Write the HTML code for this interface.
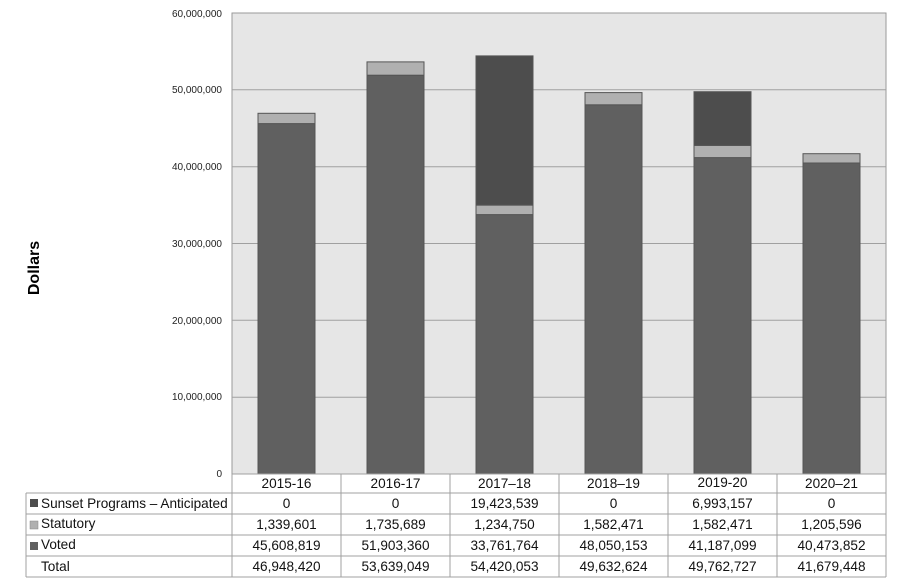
<!DOCTYPE html>
<html><head><meta charset="utf-8"><style>
html,body{margin:0;padding:0;background:#fff;}
svg{display:block;font-family:"Liberation Sans",Arial,sans-serif;}
</style></head><body>
<svg width="900" height="588" viewBox="0 0 900 588">
<rect x="232" y="13" width="654" height="461" fill="#e6e6e6" stroke="#999" stroke-width="1"/>
<g stroke="#a0a0a0" stroke-width="1">
<line x1="232" x2="886" y1="89.8" y2="89.8"/>
<line x1="232" x2="886" y1="166.7" y2="166.7"/>
<line x1="232" x2="886" y1="243.5" y2="243.5"/>
<line x1="232" x2="886" y1="320.3" y2="320.3"/>
<line x1="232" x2="886" y1="397.2" y2="397.2"/>
</g>
<g font-size="10" fill="#222" text-anchor="end">
<text x="222" y="17">60,000,000</text>
<text x="222" y="93">50,000,000</text>
<text x="222" y="170">40,000,000</text>
<text x="222" y="247">30,000,000</text>
<text x="222" y="324">20,000,000</text>
<text x="222" y="400">10,000,000</text>
<text x="222" y="477">0</text>
</g>
<text transform="translate(39,268) rotate(-90)" text-anchor="middle" font-size="16" font-weight="bold" fill="#000">Dollars</text>
<g stroke="#555" stroke-width="1">
<rect x="258" y="123.6" width="57" height="350.4" fill="#606060"/>
<rect x="258" y="113.3" width="57" height="10.3" fill="#b0b0b0"/>
<rect x="367" y="75.2" width="57" height="398.8" fill="#606060"/>
<rect x="367" y="61.9" width="57" height="13.3" fill="#b0b0b0"/>
<rect x="476" y="214.6" width="57" height="259.4" fill="#606060"/>
<rect x="476" y="205.1" width="57" height="9.5" fill="#b0b0b0"/>
<rect x="476" y="55.9" width="57" height="149.2" fill="#4d4d4d"/>
<rect x="585" y="104.8" width="57" height="369.2" fill="#606060"/>
<rect x="585" y="92.6" width="57" height="12.2" fill="#b0b0b0"/>
<rect x="694" y="157.6" width="57" height="316.4" fill="#606060"/>
<rect x="694" y="145.4" width="57" height="12.2" fill="#b0b0b0"/>
<rect x="694" y="91.7" width="57" height="53.7" fill="#4d4d4d"/>
<rect x="803" y="163" width="57" height="311" fill="#606060"/>
<rect x="803" y="153.7" width="57" height="9.3" fill="#b0b0b0"/>
</g>
<g stroke="#a0a0a0" stroke-width="1" fill="none">
<line x1="232" x2="886" y1="474" y2="474"/>
<line x1="26" x2="886" y1="493" y2="493"/>
<line x1="26" x2="886" y1="514" y2="514"/>
<line x1="26" x2="886" y1="535" y2="535"/>
<line x1="26" x2="886" y1="556" y2="556"/>
<line x1="26" x2="886" y1="577" y2="577"/>
<line x1="26" x2="26" y1="493" y2="577"/>
<line x1="232" x2="232" y1="474" y2="577"/>
<line x1="341" x2="341" y1="474" y2="577"/>
<line x1="450" x2="450" y1="474" y2="577"/>
<line x1="559" x2="559" y1="474" y2="577"/>
<line x1="668" x2="668" y1="474" y2="577"/>
<line x1="777" x2="777" y1="474" y2="577"/>
<line x1="886" x2="886" y1="474" y2="577"/>
</g>
<rect x="30" y="499" width="8" height="8" fill="#4d4d4d"/>
<rect x="30" y="521" width="8" height="8" fill="#b0b0b0" stroke="#888" stroke-width="0.5"/>
<rect x="30" y="542" width="8" height="8" fill="#606060"/>
<g font-size="13.6" fill="#111">
<text x="41" y="508">Sunset Programs – Anticipated</text>
<text x="41" y="528">Statutory</text>
<text x="41" y="549">Voted</text>
<text x="41" y="571">Total</text>
</g>
<g font-size="13.6" fill="#111" text-anchor="middle">
<text x="286.5" y="488">2015-16</text><text x="395.5" y="488">2016-17</text><text x="504.5" y="488">2017–18</text><text x="613.5" y="488">2018–19</text><text x="722.5" y="487">2019-20</text><text x="831.5" y="488">2020–21</text>
<text x="286.5" y="508">0</text><text x="395.5" y="508">0</text><text x="504.5" y="508">19,423,539</text><text x="613.5" y="508">0</text><text x="722.5" y="508">6,993,157</text><text x="831.5" y="508">0</text>
<text x="286.5" y="529">1,339,601</text><text x="395.5" y="529">1,735,689</text><text x="504.5" y="529">1,234,750</text><text x="613.5" y="529">1,582,471</text><text x="722.5" y="529">1,582,471</text><text x="831.5" y="529">1,205,596</text>
<text x="286.5" y="550">45,608,819</text><text x="395.5" y="550">51,903,360</text><text x="504.5" y="550">33,761,764</text><text x="613.5" y="550">48,050,153</text><text x="722.5" y="550">41,187,099</text><text x="831.5" y="550">40,473,852</text>
<text x="286.5" y="571">46,948,420</text><text x="395.5" y="571">53,639,049</text><text x="504.5" y="571">54,420,053</text><text x="613.5" y="571">49,632,624</text><text x="722.5" y="571">49,762,727</text><text x="831.5" y="571">41,679,448</text>
</g>
</svg>
</body></html>
